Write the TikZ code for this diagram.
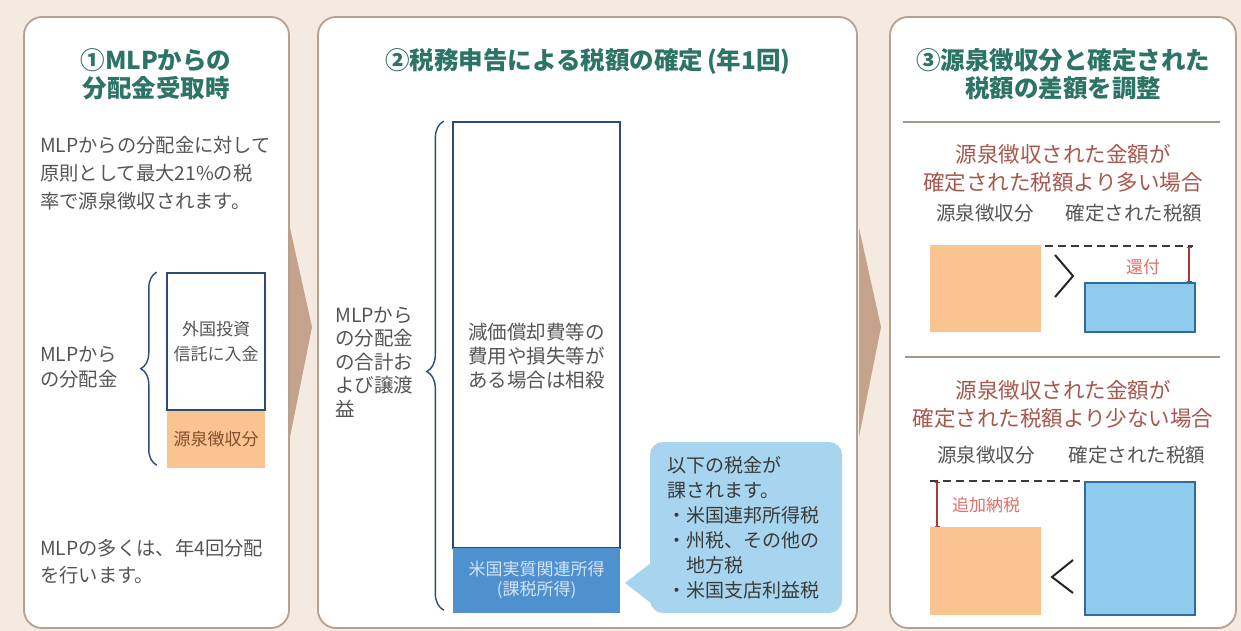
\documentclass[tikz,border=0pt]{standalone}
\usepackage{fontspec}
\setmainfont{Noto Sans CJK JP}
\usetikzlibrary{decorations.pathreplacing,arrows.meta,calc}
\definecolor{bg}{HTML}{F4EADF}
\definecolor{panelline}{HTML}{B5A191}
\definecolor{ttlcol}{HTML}{2C7466}
\definecolor{txt}{HTML}{555555}
\definecolor{darktxt}{HTML}{3A3A3A}
\definecolor{navy}{HTML}{2E4A78}
\definecolor{orangefill}{HTML}{F9C48F}
\definecolor{browntxt}{HTML}{8A4A2E}
\definecolor{midblue}{HTML}{4F90CF}
\definecolor{paleblue}{HTML}{D3E4F4}
\definecolor{callfill}{HTML}{A7D4EE}
\definecolor{lightblue}{HTML}{8FCBEC}
\definecolor{blueline}{HTML}{2F6D9D}
\definecolor{chevcol}{HTML}{C4A28B}
\definecolor{sepcol}{HTML}{A6978B}
\definecolor{redhead}{HTML}{A8574E}
\definecolor{redsmall}{HTML}{E07068}
\definecolor{redline}{HTML}{A83A3A}
\begin{document}
\begin{tikzpicture}[x=1pt,y=-1pt,
  panel/.style={draw=panelline,line width=1.8pt,fill=white,rounded corners=18pt,inner sep=0pt},
  ttl/.style={text=ttlcol,font=\fontsize{24.5}{28}\selectfont\bfseries,align=center,inner sep=0pt},
  body/.style={text=txt,font=\fontsize{19.3}{28}\selectfont,align=left,inner sep=0pt,anchor=west},
  wbox/.style={draw=navy,line width=1.8pt,fill=white,inner sep=0pt,text=txt,align=center,font=\fontsize{17}{25}\selectfont},
  obox/.style={fill=orangefill,inner sep=0pt,text=browntxt,font=\fontsize{17}{20}\selectfont},
  eci/.style={fill=midblue,inner sep=0pt,text=paleblue,align=center,font=\fontsize{17}{20}\selectfont},
  boxtxt/.style={text=txt,align=center,inner sep=0pt,font=\fontsize{19.5}{24}\selectfont},
  callbox/.style={fill=callfill,rounded corners=13pt,inner sep=0pt},
  bracestyle/.style={draw=navy,line width=1.4pt,decorate},
  chev/.style={fill=chevcol},
  sepline/.style={draw=sepcol,line width=1.5pt},
  redh/.style={text=redhead,align=center,inner sep=0pt,font=\fontsize{21.5}{28}\selectfont},
  lbl/.style={text=txt,inner sep=0pt,font=\fontsize{19.5}{24}\selectfont},
  obox3/.style={fill=orangefill,inner sep=0pt},
  bbox3/.style={fill=lightblue,draw=blueline,line width=1.8pt,inner sep=0pt},
  dashline/.style={draw=darktxt,line width=1.3pt,dash pattern=on 8pt off 5pt},
  redarr/.style={draw=redline,line width=1.3pt,{Bar[width=5pt]}-{Bar[width=5pt]}},
  redlbl/.style={text=redsmall,inner sep=0pt,font=\fontsize{17}{20}\selectfont},
  cmp/.style={draw=black!85,line width=2pt}
]
\useasboundingbox (0,0) rectangle (1241,631);
\fill[bg] (0,0) rectangle (1241,631);

% panels
\node[panel,minimum width=265,minimum height=611] (p1) at (156.5,322.5) {};
\node[panel,minimum width=539,minimum height=611] (p2) at (587.5,322.5) {};
\node[panel,minimum width=346,minimum height=611] (p3) at (1063,322.5) {};

% chevrons between panels
\fill[chev] (290,228) -- (312,327) -- (290,437) -- cycle;
\fill[chev] (859,228) -- (881,327) -- (859,437) -- cycle;

% ---------- panel 1
\node[ttl] (t1) at (156,74) {①MLPからの\\分配金受取時};
\node[body] (b1) at (40,173) {MLPからの分配金に対して\\原則として最大21\%の税\\率で源泉徴収されます。};
\node[body,font=\fontsize{19.3}{25}\selectfont] (l1) at (40,367.5) {MLPから\\の分配金};
\node[obox,minimum width=98,minimum height=58] (wh1) at (216,439) {源泉徴収分};
\node[wbox,minimum width=98,minimum height=137] (inv) at (216,341.5) {外国投資\\信託に入金};
\draw[bracestyle,decoration={brace,amplitude=16pt}] (wh1.south west) ++(-10,-3) coordinate (br1a) -- (inv.north west -| br1a) coordinate (br1b);
\node[body,font=\fontsize{19.3}{27}\selectfont] (b2) at (40,561.5) {MLPの多くは、年4回分配\\を行います。};

% ---------- panel 2
\node[ttl] (t2) at (588,61) {②税務申告による税額の確定\,(年1回)};
\node[body,font=\fontsize{19.5}{23.5}\selectfont] (l2) at (335,362) {MLPから\\の分配金\\の合計お\\よび譲渡\\益};
\node[wbox,minimum width=167,minimum height=426] (inc) at (536.5,335) {};
\node[boxtxt] (inct) at (536.5,356) {減価償却費等の\\費用や損失等が\\ある場合は相殺};
\node[eci,minimum width=167,minimum height=65] (eci) at (536.5,580.5) {米国実質関連所得\\(課税所得)};
\draw[bracestyle,decoration={brace,amplitude=17pt,aspect=0.488}] (eci.south west) ++(-9,-3) coordinate (br2a) -- (inc.north west -| br2a) coordinate (br2b);
\node[callbox,minimum width=192,minimum height=171] (co) at (746,527.5) {};
\coordinate (ptip) at (625,583);
\fill[callfill] ($(co.west)+(1,35.5)$) coordinate (pa) -- (ptip) -- ($(co.west)+(1,75.5)$) coordinate (pb) -- cycle;
\node[body,text=darktxt,font=\fontsize{19}{25}\selectfont] (cot) at (667,527.5) {以下の税金が\\課されます。\\・米国連邦所得税\\・州税、その他の\\　地方税\\・米国支店利益税};

% ---------- panel 3
\node[ttl] (t3) at (1063,74) {③源泉徴収分と確定された\\税額の差額を調整};
\coordinate (s1a) at (903,122); \coordinate (s1b) at (1220,122);
\draw[sepline] (s1a) -- (s1b);
\node[redh] (h1) at (1063,168.5) {源泉徴収された金額が\\確定された税額より多い場合};
\node[lbl] (w1) at (985,213) {源泉徴収分};
\node[lbl] (c1) at (1134,213) {確定された税額};
\node[obox3,minimum width=111,minimum height=87] (o1) at (985.5,288.5) {};
\node[bbox3,minimum width=110,minimum height=49] (bl1) at (1140,307.5) {};
\coordinate (d1a) at (1045,246); \coordinate (d1b) at (1193,246);
\draw[dashline] (d1a) -- (d1b);
\coordinate (r1top) at (1189,247);
\draw[redarr] (r1top) -- (r1top |- bl1.north);
\node[redlbl] (rf) at (1143,267) {還付};
\coordinate (g1a) at (1055,255); \coordinate (g1b) at (1073,276); \coordinate (g1c) at (1055,297);
\draw[cmp] (g1a) -- (g1b) -- (g1c);

\coordinate (s2a) at (905,357); \coordinate (s2b) at (1220,357);
\draw[sepline] (s2a) -- (s2b);
\node[redh] (h2) at (1063,404.5) {源泉徴収された金額が\\確定された税額より少ない場合};
\node[lbl] (w2) at (986,455) {源泉徴収分};
\node[lbl] (c2) at (1137,455) {確定された税額};
\node[bbox3,minimum width=110,minimum height=133] (bl2) at (1140,548.5) {};
\node[obox3,minimum width=111,minimum height=88] (o2) at (985.5,571) {};
\coordinate (d2a) at (930,481); \coordinate (d2b) at (1080,481);
\draw[dashline] (d2a) -- (d2b);
\coordinate (r2top) at (937,482);
\draw[redarr] (r2top) -- (r2top |- o2.north);
\node[redlbl] (ad) at (986,505) {追加納税};
\coordinate (g2a) at (1073,560); \coordinate (g2b) at (1052,577); \coordinate (g2c) at (1073,593);
\draw[cmp] (g2a) -- (g2b) -- (g2c);
\end{tikzpicture}
\end{document}
